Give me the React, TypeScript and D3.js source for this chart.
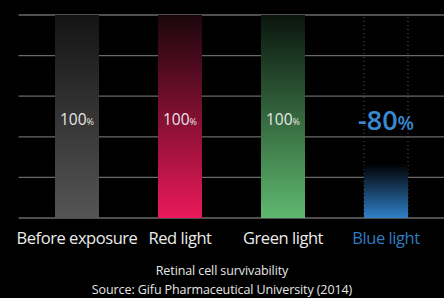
import React from "react";
import * as d3 from "d3";

const categories = ["Before exposure", "Red light", "Green light", "Blue light"];
const values = [100, 100, 100, 27];
const labels = ["100", "100", "100", "-80"];
const yTicks = [0, 20, 40, 60, 80, 100];
const title = "Retinal cell survivability";
const source = "Source: Gifu Pharmaceutical University (2014)";

const topColors = ["#141414", "#1a060b", "#0a150d", "#000000"];
const bottomColors = ["#555555", "#ea195b", "#5fb86f", "#2f80c8"];

const W = 444;
const H = 298;
const FONT = "'Open Sans', 'DejaVu Sans', sans-serif";

export default function App() {
  const x = d3.scaleBand<string>().domain(categories).range([25.5, 437.5]).paddingInner(0.573).paddingOuter(0.2865);
  const y = d3.scaleLinear().domain([0, 100]).range([218, 15]);
  const bw = x.bandwidth();

  return (
    <svg width={W} height={H} style={{ position: "absolute", left: 0, top: 0, background: "#000" }}>
      <defs>
        {categories.map((c, i) => (
          <linearGradient key={c} id={`g${i}`} x1="0" y1="0" x2="0" y2="1">
            <stop offset="0%" stopColor={topColors[i]} />
            {i === 3 && <stop offset="10%" stopColor="#050b12" />}
            <stop offset="100%" stopColor={bottomColors[i]} />
          </linearGradient>
        ))}
      </defs>
      <rect x={0} y={0} width={W} height={H} fill="#000" />
      {yTicks.map((t) => (
        <line key={t} x1={18.5} x2={W} y1={y(t)} y2={y(t)} stroke="#6a6a6a" strokeWidth={1.3} />
      ))}
      {[x(categories[3])!, x(categories[3])! + bw].map((xx, i) => (
        <line key={i} x1={xx} x2={xx} y1={y(100) + 2} y2={y(0)} stroke="#5a5a5a" strokeWidth={1} strokeDasharray="1,3" />
      ))}
      {categories.map((c, i) => (
        <rect key={c} x={x(c)} y={y(values[i])} width={bw} height={y(0) - y(values[i])} fill={`url(#g${i})`} />
      ))}
      {categories.map((c, i) => {
        const cx = x(c)! + bw / 2;
        const isBlue = i === 3;
        return (
          <text
            key={"v" + c}
            x={cx}
            y={isBlue ? 130 : 125}
            textAnchor="middle"
            fill={isBlue ? "#3a88d2" : "#e6e6e6"}
            fontFamily={FONT}
            fontWeight={isBlue ? 600 : 400}
            fontSize={isBlue ? 27 : 15.5}
          >
            {labels[i]}
            <tspan fontSize={isBlue ? 19 : 9}>%</tspan>
          </text>
        );
      })}
      {categories.map((c, i) => (
        <text
          key={"c" + c}
          x={x(c)! + bw / 2}
          y={244}
          textAnchor="middle"
          fill={i === 3 ? "#2f7cc2" : "#ececec"}
          fontFamily={FONT}
          fontSize={16.5}
          letterSpacing={-0.45}
        >
          {c}
        </text>
      ))}
      <text x={W / 2} y={275} textAnchor="middle" fill="#e6e6e6" fontFamily={FONT} fontSize={12.5} letterSpacing={-0.1}>
        {title}
      </text>
      <text x={W / 2} y={294} textAnchor="middle" fill="#e6e6e6" fontFamily={FONT} fontSize={12.5} letterSpacing={-0.1}>
        {source}
      </text>
    </svg>
  );
}
